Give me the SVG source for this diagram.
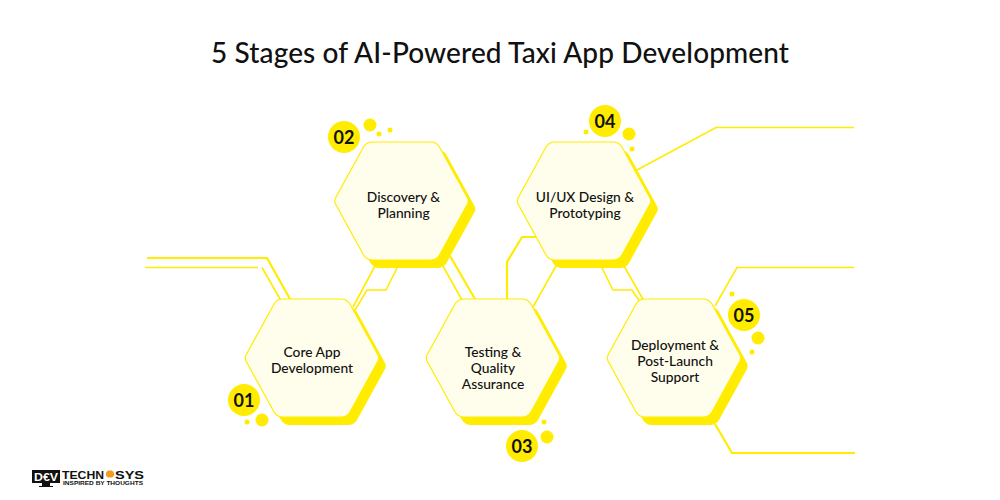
<svg xmlns="http://www.w3.org/2000/svg" width="1000" height="500" viewBox="0 0 1000 500">
<style>
text{font-family:"Lato","Liberation Sans",sans-serif;fill:#111}
.title{font-size:28px;font-weight:500;text-anchor:middle}
.lab{font-size:13.800px;font-weight:500;text-anchor:middle}
.num{font-size:18px;font-weight:700;text-anchor:middle}
.hx{fill:#FFFEEC;stroke:#FFEC00;stroke-width:1.2}
.sh{fill:#FFEC00}
.y{fill:#FFEC00}
.c{fill:none;stroke:#FFEC00;stroke-width:1.6}
.t{stroke-width:2.2}
.lg{font-family:"Liberation Sans",sans-serif;font-weight:700}
</style>
<defs>
<path id="h" d="M-66,-3L-38,-54Q-35,-59 -29,-59L29,-59Q35,-59 38,-54L66,-3Q67.500,0 66,3L38,54Q35,59 29,59L-29,59Q-35,59 -38,54L-66,3Q-67.500,0 -66,-3Z"/>
</defs>
<text class="title" x="500" y="63" textLength="578" lengthAdjust="spacing">5 Stages of AI-Powered Taxi App Development</text>
<g id="connectors">
<path class="c t" d="M147,258H267L290,299"/>
<path class="c" d="M145,267.500H258M262,267.500L280,299"/>
<path class="c" d="M375,266L353,307"/>
<path class="c" d="M398,266L386,290H367L355,310"/>
<path class="c" d="M443,266L462,300"/>
<path class="c t" d="M450,256L475,299"/>
<path class="c t" d="M507,299V262L522,237H538"/>
<path class="c" d="M533,307L556,266"/>
<path class="c" d="M601,266L613,290H632L642,305"/>
<path class="c" d="M624,266L644,301"/>
<path class="c" d="M637,170L716,127.500H854"/>
<path class="c" d="M715,306L737,267.500H854"/>
<path class="c t" d="M715,424L732,453H855"/>
</g>
<g id="node-01">
<use href="#h" class="sh" x="319" y="366"/><use href="#h" class="hx" x="312" y="358"/>
<text class="lab" x="312" y="357">Core App</text><text class="lab" x="312" y="373">Development</text>
<circle class="y" cx="244" cy="400" r="16"/><circle class="y" cx="262" cy="420" r="6.500"/><circle class="y" cx="247" cy="422" r="2.500"/>
<text class="num" x="244" y="407">01</text>
</g>
<g id="node-02">
<use href="#h" class="sh" x="408.500" y="209"/><use href="#h" class="hx" x="401.500" y="201"/>
<text class="lab" x="403.500" y="202">Discovery &amp;</text><text class="lab" x="403.500" y="218">Planning</text>
<circle class="y" cx="344" cy="137" r="16"/><circle class="y" cx="370" cy="125" r="6.500"/><circle class="y" cx="379" cy="134" r="2.500"/><circle class="y" cx="390" cy="130" r="2.500"/>
<text class="num" x="344" y="144">02</text>
</g>
<g id="node-03">
<use href="#h" class="sh" x="500" y="366"/><use href="#h" class="hx" x="493" y="358"/>
<text class="lab" x="493" y="357">Testing &amp;</text><text class="lab" x="493" y="373">Quality</text><text class="lab" x="493" y="389">Assurance</text>
<circle class="y" cx="522" cy="446" r="16"/><circle class="y" cx="547" cy="437" r="6.500"/><circle class="y" cx="544" cy="422" r="2.500"/>
<text class="num" x="522" y="453">03</text>
</g>
<g id="node-04">
<use href="#h" class="sh" x="591" y="209"/><use href="#h" class="hx" x="584" y="201"/>
<text class="lab" x="585" y="202">UI/UX Design &amp;</text><text class="lab" x="585" y="218">Prototyping</text>
<circle class="y" cx="605" cy="121" r="16"/><circle class="y" cx="629" cy="134" r="6.500"/><circle class="y" cx="586" cy="132" r="2.500"/><circle class="y" cx="632" cy="149" r="2.500"/>
<text class="num" x="605" y="128">04</text>
</g>
<g id="node-05">
<use href="#h" class="sh" x="681" y="366"/><use href="#h" class="hx" x="674" y="358"/>
<text class="lab" x="675" y="350">Deployment &amp;</text><text class="lab" x="675" y="366">Post-Launch</text><text class="lab" x="675" y="382">Support</text>
<circle class="y" cx="744" cy="315" r="16"/><circle class="y" cx="758" cy="338" r="6.500"/><circle class="y" cx="732" cy="294" r="2.500"/><circle class="y" cx="752" cy="352" r="2.500"/>
<text class="num" x="744" y="322">05</text>
</g>
<g id="logo">
<rect x="32" y="470" width="28" height="13" fill="#111"/>
<path d="M42,483H50V486H53V487H39V486H42Z" fill="#111"/>
<text class="lg" x="34" y="481" font-size="11" style="fill:#fff" textLength="24" lengthAdjust="spacingAndGlyphs">D€V</text>
<text class="lg" x="62" y="478.500" font-size="11" textLength="42" lengthAdjust="spacingAndGlyphs">TECHN</text>
<path d="M108,470.500H112L114,472.500V475.500L112,477.500H108L106,475.500V472.500Z" fill="#F59A1B"/>
<text class="lg" x="115" y="478.500" font-size="11" textLength="29" lengthAdjust="spacingAndGlyphs">SYS</text>
<text class="lg" x="63" y="484.800" font-size="5" textLength="80" lengthAdjust="spacingAndGlyphs">INSPIRED BY THOUGHTS</text>
</g>
</svg>
